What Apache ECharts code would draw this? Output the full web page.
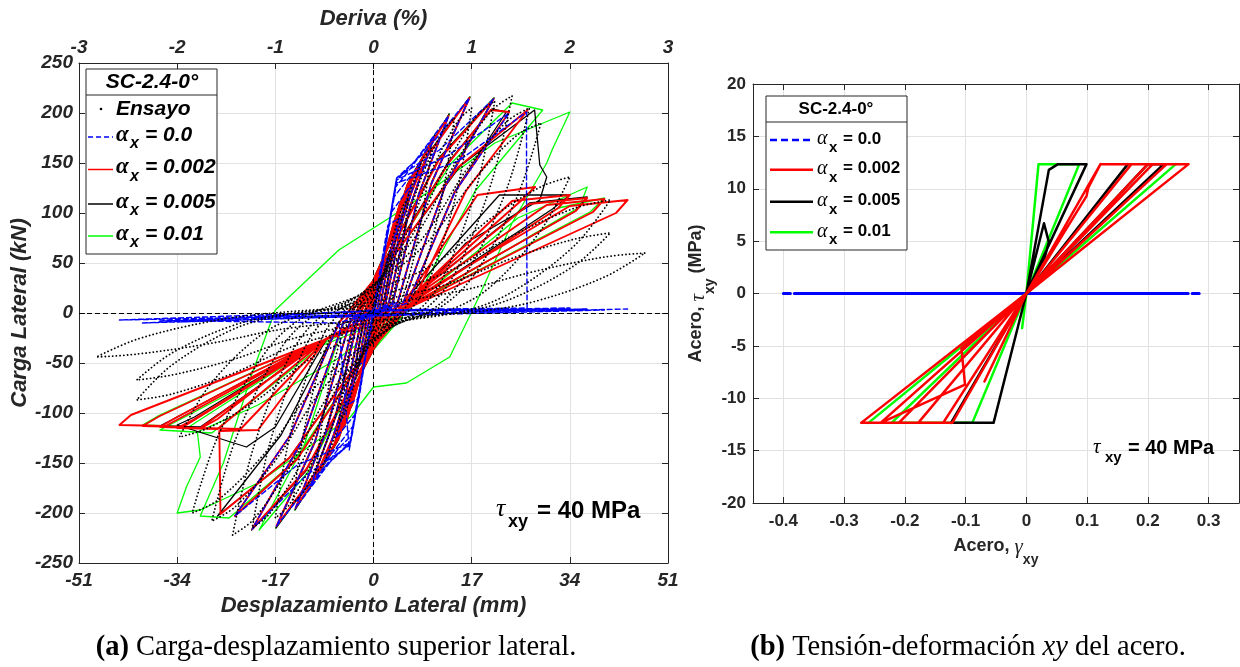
<!DOCTYPE html>
<html>
<head>
<meta charset="utf-8">
<script src="https://cdn.jsdelivr.net/npm/echarts/dist/echarts.min.js"></script>
<style>
html,body{margin:0;padding:0;background:#fff;}
#chart{width:1240px;height:667px;}
</style>
</head>
<body>
<div id="chart"></div>
<script>
// ---------- axis ranges ----------
const dispRange   = [-51, 51, 17];      // Desplazamiento Lateral (mm)
const driftRange  = [-3, 3, 1];         // Deriva (%)
const loadRange   = [-250, 250, 50];    // Carga Lateral (kN)
const strainRange = [-0.45, 0.35];      // Acero, gamma_xy
const stressRange = [-20, 20, 5];       // Acero, tau_xy (MPa)

// ---------- (a) load - displacement, [mm, kN] ----------
const ensayoLoad = [
  [0,0],
  [0.9,21],[1.8,42],[2.55,56],[3,60],[2.55,36],[1.8,12],[1.2,2],[0.3,-5],[-0.9,-19],[-1.8,-39],[-2.55,-51],[-3,-55],[-2.55,-33],[-1.8,-11],[-1.2,-2],[-0.3,4],
  [1.8,40],[3.6,81],[5.1,107],[6,115],[5.1,69],[3.6,23],[2.4,3],[0.6,-9],[-1.8,-39],[-3.6,-77],[-5.1,-102],[-6,-110],[-5.1,-66],[-3.6,-22],[-2.4,-3],[-0.6,9],
  [3,58],[6,116],[8.5,153],[10,165],[8.5,99],[6,33],[4,5],[1,-13],[-3,-56],[-6,-112],[-8.5,-149],[-10,-160],[-8.5,-96],[-6,-32],[-4,-5],[-1,13],
  [4.2,68],[8.4,137],[11.9,181],[14,195],[11.9,117],[8.4,39],[5.6,6],[1.4,-16],[-4.2,-67],[-8.4,-133],[-11.9,-177],[-14,-190],[-11.9,-114],[-8.4,-38],[-5.6,-6],[-1.4,15],
  [5.1,72],[10.2,144],[14.5,191],[17,205],[14.5,123],[10.2,41],[6.8,6],[1.7,-16],[-5.1,-72],[-10.2,-144],[-14.5,-191],[-17,-205],[-14.5,-123],[-10.2,-41],[-6.8,-6],[-1.7,16],
  [6.3,74],[12.6,148],[17.9,197],[21,212],[17.9,127],[12.6,42],[8.4,6],[2.1,-17],[-6.3,-75],[-12.6,-151],[-17.9,-200],[-21,-215],[-17.9,-129],[-12.6,-43],[-8.4,-6],[-2.1,17],
  [7.2,76],[14.4,152],[20.4,202],[24,217],[20.4,130],[14.4,43],[9.6,7],[2.4,-17],[-7.3,-78],[-14.6,-155],[-20.7,-206],[-24.4,-222],[-20.7,-133],[-14.6,-44],[-9.8,-7],[-2.4,18],
  [8.1,72],[16.2,144],[23,191],[27,205],[23,123],[16.2,41],[10.8,6],[2.7,-16],[-8.4,-73],[-16.8,-146],[-23.8,-193],[-28,-208],[-23.8,-125],[-16.8,-42],[-11.2,-6],[-2.8,17],
  [8.7,67],[17.4,133],[24.7,177],[29,190],[24.7,114],[17.4,38],[11.6,6],[2.9,-15],[-9.4,-70],[-18.8,-140],[-26.7,-186],[-31.4,-200],[-26.7,-120],[-18.8,-40],[-12.6,-6],[-3.1,16],
  [10.2,48],[20.4,95],[28.9,126],[34,136],[28.9,82],[20.4,27],[13.6,4],[3.4,-11],[-10.1,-43],[-20.2,-87],[-28.6,-115],[-33.6,-124],[-28.6,-74],[-20.2,-25],[-13.4,-4],[-3.4,10],
  [12.3,40],[24.6,79],[34.9,105],[41,113],[34.9,68],[24.6,23],[16.4,3],[4.1,-9],[-12.3,-30],[-24.6,-61],[-34.9,-81],[-41,-87],[-34.9,-52],[-24.6,-17],[-16.4,-3],[-4.1,7],
  [12.3,28],[24.6,56],[34.9,74],[41,80],[34.9,48],[24.6,16],[16.4,2],[4.1,-6],[-12.3,-23],[-24.6,-47],[-34.9,-62],[-41,-67],[-34.9,-40],[-24.6,-13],[-16.4,-2],[-4.1,5],
  [14.1,21],[28.2,42],[40,56],[47,60],[40,36],[28.2,12],[18.8,2],[4.7,-5],[-14.4,-15],[-28.8,-31],[-40.8,-41],[-48,-44],[-40.8,-26],[-28.8,-9],[-19.2,-1],[-4.8,4],[0,0]
];

const alpha0Load = [
  [0,0],[1.5,50],[2.5,55],[1.5,33],[0.6,3],[0,-5],[-1.5,-48],[-2.5,-52],[-1.5,-31],[-0.6,-3],[0,5],
  [2.5,88],[4.5,95],[2.7,57],[1.1,5],[-0.2,-2],[-2.5,-85],[-4.5,-92],[-2.7,-55],[-1.1,-5],[0.2,2],
  [3,100],[6.5,128],[3.9,77],[1.6,6],[-0.2,-2],[-3,-100],[-6.5,-125],[-3.9,-75],[-1.6,-6],[0.2,2],
  [3.4,115],[8.2,150],[4.9,90],[2,8],[-0.2,-2],[-3.4,-112],[-8.5,-150],[-5.1,-90],[-2.1,-8],[0.2,2],
  [3.7,125],[5.8,140],[10.5,176],[6.3,106],[2.6,9],[-0.2,-2],[-3.7,-122],[-6,-135],[-11,-174],[-6.6,-104],[-2.8,-9],[0.2,2],
  [3.9,132],[7.2,152],[13,197],[7.8,118],[3.3,10],[-0.2,-2],[-3.9,-128],[-7.4,-148],[-13.5,-195],[-8.1,-117],[-3.4,-10],[0.2,2],
  [4,135],[9.1,162],[16.6,215],[10,129],[4.2,11],[-0.2,-2],[-4,-130],[-9.2,-158],[-16.8,-213],[-10.1,-128],[-4.2,-11],[0.2,2],
  [4,135],[11.4,163],[20.8,214],[12.5,128],[5.2,11],[-0.2,-2],[-4.1,-132],[-11.6,-162],[-21,-216],[-12.6,-130],[-5.3,-11],[0.2,2],
  [4,133],[13,158],[23.5,200],[14.1,121],[5.9,10],[-0.2,-2],[-4.1,-130],[-13.2,-152],[-24,-203],[-14.4,-122],[-6,-10],[0.2,2],
  [4,130],[14.7,152],[26.5,201],[26.5,120],[26.6,5],[12,4],[0,3],[-4.2,-137],[-6,-10],
  [-29.8,-8],[0,-2],[30,4],[0,3],[-34,-9],[0,-3],[34,5],[0,2],[-37,-8],[0,-1],[37,4],[0,2],
  [-40,-10],[0,-3],[40,3],[0,2],[-44,-7],[0,-2],[44,4]
];

const alpha002Load = [
  [0,0],
  [0.4,17],[1.4,40],[2.5,55],[1.5,33],[0.6,3],[-0.4,-16],[-1.4,-37],[-2.5,-52],[-1.5,-31],[-0.6,-3],
  [0.7,29],[2.5,68],[4.5,95],[2.7,57],[1.1,5],[-0.7,-28],[-2.5,-66],[-4.5,-92],[-2.7,-55],[-1.1,-5],
  [1,38],[3.6,92],[6.5,128],[3.9,77],[1.6,6],[-1,-38],[-3.6,-90],[-6.5,-125],[-3.9,-75],[-1.6,-6],
  [1.2,45],[4.5,108],[8.2,150],[4.9,90],[2,8],[-1.3,-45],[-4.7,-108],[-8.5,-150],[-5.1,-90],[-2.1,-8],
  [1.6,53],[5.8,127],[10.5,176],[6.3,106],[2.6,9],[-1.7,-52],[-6,-125],[-11,-174],[-6.6,-104],[-2.8,-9],
  [2,59],[7.2,142],[13,197],[7.8,118],[3.3,10],[-2,-59],[-7.4,-140],[-13.5,-195],[-8.1,-117],[-3.4,-10],
  [2.5,65],[9.1,155],[16.6,215],[10,129],[4.2,11],[-2.5,-64],[-9.2,-153],[-16.8,-213],[-10.1,-128],[-4.2,-11],
  [3.1,64],[11.4,154],[20.8,214],[12.5,128],[5.2,11],[-3.2,-65],[-11.6,-156],[-21,-216],[-12.6,-130],[-5.3,-11],
  [3.5,60],[13,150],[20.3,203],[23.5,201],[14.1,121],[5.9,10],[-3.6,-61],[-13.2,-146],[-24,-203],[-14.4,-122],[-6,-10],
  [4,61],[14.7,146],[26.7,203],[16,122],[6.7,10],[-4,-60],[-14.6,-145],[-26.5,-201],[-26.7,-118],[-20,-117],[-8,-25],
  [5,8],[18,118],[28,126],[25.5,112],[3,-3],[-10,-30],[-27,-106],[-29.8,-115],[-23,-116],[-8,-25],
  [5,8],[24,112],[34,118],[32,105],[3,-3],[-10,-30],[-31,-106],[-34,-115],[-27,-116],[-8,-25],
  [5,8],[27,109],[37,115],[35,102],[3,-3],[-10,-30],[-34,-104],[-37,-114],[-30,-115],[-8,-25],
  [5,8],[30,108],[40,114],[38,101],[3,-3],[-10,-30],[-37,-103],[-40,-113],[-33,-114],[-8,-25],
  [5,8],[34,107],[44,113],[42,100],[3,-3],[-10,-30],[-42,-102],[-44,-112],[-36,-113],[-8,-25],[0,0]
];

const alpha005Load = [
  [0,0],
  [0.5,18],[1.5,42],[2.6,56],[1.6,35],[0.7,4],[-0.5,-18],[-1.5,-38],[-2.6,-53],[-1.6,-33],[-0.7,-4],
  [0.8,31],[2.6,70],[4.6,97],[2.8,59],[1.2,6],[-0.8,-30],[-2.6,-68],[-4.6,-94],[-2.8,-57],[-1.2,-6],
  [1.1,40],[3.7,94],[6.6,130],[4,79],[1.7,7],[-1.1,-40],[-3.7,-92],[-6.6,-127],[-4,-77],[-1.7,-7],
  [1.3,47],[4.6,110],[8.3,152],[5,92],[2.1,9],[-1.4,-47],[-4.8,-110],[-8.6,-152],[-5.2,-92],[-2.2,-9],
  [1.7,55],[5.9,129],[10.6,178],[6.4,108],[2.7,10],[-1.8,-54],[-6.1,-127],[-11.1,-176],[-6.7,-106],[-2.9,-10],
  [2.1,61],[7.3,144],[13.1,199],[7.9,120],[3.4,11],[-2.1,-61],[-7.5,-142],[-13.6,-197],[-8.2,-119],[-3.5,-11],
  [2.6,67],[9.2,157],[16.7,216],[10.1,131],[4.3,12],[-2.6,-66],[-9.3,-155],[-16.9,-215],[-10.2,-130],[-4.3,-12],
  [3.2,66],[11.5,156],[20.9,215],[12.6,130],[5.3,12],[-3.3,-67],[-11.7,-158],[-21.1,-217],[-12.7,-132],[-5.4,-12],
  [3.5,62],[13,151],[20.5,204],[23,201],[14,121],[5.9,10],[-3.6,-61],[-13.2,-146],[-24,-203],[-14.4,-122],[-6,-10],
  [4,61],[15,147],[27.9,203],[28.8,148],[30,136],[28.8,113],[16,70],[6,6],[-4,-60],[-14.6,-145],[-27,-203],[-16,-122],[-6,-12],
  [5,10],[21.8,118],[34,118],[31,104],[3,-3],[-10,-30],[-31,-104],[-34,-112],[-22,-134],[-17,-114],[-8,-25],
  [5,8],[27,110],[37,116],[35,102],[3,-3],[-10,-30],[-34,-104],[-37,-113],[-30,-114],[-8,-25],[0,0]
];

const alpha01Load = [
  [0,0],
  [0.5,18],[1.5,41],[2.6,56],[1.6,34],[0.7,4],[-0.4,-17],[-1.5,-38],[-2.6,-53],[-1.6,-32],[-0.7,-4],
  [0.8,30],[2.6,70],[4.6,96],[2.8,58],[1.2,6],[-0.8,-29],[-2.6,-67],[-4.6,-93],[-2.8,-56],[-1.2,-6],
  [1.1,40],[3.7,94],[6.6,130],[4,79],[1.7,7],[-1.1,-39],[-3.7,-92],[-6.6,-127],[-4,-77],[-1.7,-7],
  [1.3,47],[4.6,110],[8.3,152],[5,92],[2.1,9],[-1.4,-46],[-4.8,-110],[-8.6,-152],[-5.2,-92],[-2.2,-9],
  [1.7,55],[5.9,129],[10.6,178],[6.4,108],[2.7,10],[-1.8,-53],[-6.1,-127],[-11.1,-176],[-6.7,-106],[-2.9,-10],
  [2.1,61],[7.3,144],[13.1,199],[7.9,120],[3.4,11],[-2.1,-60],[-7.5,-142],[-13.6,-197],[-8.2,-119],[-3.5,-11],
  [2.6,67],[9.2,157],[16.7,216],[10.1,131],[4.3,12],[-2.6,-66],[-9.3,-155],[-16.9,-215],[-10.2,-130],[-4.3,-12],
  [3.2,66],[11.5,156],[20.8,215],[12.6,130],[5.3,12],[-3.2,-66],[-11.2,-158],[-19.8,-217],[-12,-132],[-5.3,-12],
  [3.6,62],[13.5,150],[24,210],[29.3,203],[17.6,122],[7,10],[-3.8,-62],[-14,-150],[-25,-205],[-30,-203],[-26,-150],[-21,-60],
  [-17,3],[-6,63],[3,96],[10,123],[21,170],[34,201],[31,164],[30,150],[24,90],[18,13],[13.2,-44],[5.7,-70],[0,-74],[-4,-104],
  [-20,-170],[-30,-197],[-34,-200],[-32.4,-174],[-30,-144],[-30.5,-119],[-20,-92],[-6,-45],
  [8,15],[25,95],[37,126],[35.7,106],[3,-5],[-10,-35],[-33,-105],[-37,-117],[-28,-120],[-8,-28],
  [5,5],[32,105],[40,115],[37.5,101],[3,-3],[-10,-30],[-37,-102],[-40,-112],[-32,-114],[-8,-25],[0,0]
];

// ---------- (b) steel shear stress - strain, [gamma_xy, tau_xy MPa] ----------
const alpha0Steel = [[-0.4,0],[0.262,0],[-0.371,0],[0.262,0],[-0.371,0],[0.288,0]];

const alpha002Steel = [
  [0,0],[0.099,9.3],[0.102,10.1],[0.122,12.35],[0,0],[-0.069,-8.4],[0,0],
  [-0.122,-12.35],[-0.137,-12.35],[0,0],[0.122,12.35],[0.173,12.35],[0,0],
  [-0.137,-12.35],[-0.178,-12.35],[0,0],[0.173,12.35],[0.2,12.35],[0,0],
  [0.2,12.35],[0.208,12.35],[0,0],[-0.178,-12.35],[-0.21,-12.35],[0,0],
  [0.208,12.35],[0.231,12.35],[0,0],[-0.21,-12.35],[-0.24,-12.35],[0,0],
  [0.231,12.35],[0.267,12.35],[0,0],[-0.107,-5.2],[-0.101,-8.7],[-0.24,-12.35],[-0.272,-12.35],[0,0]
];

const alpha005Steel = [
  [0,0],[0.029,6.7],[0.037,4.9],[0.03,3.4],[0,0],[0.037,11.8],[0.052,12.35],[0.099,12.35],[0,0],
  [-0.054,-12.35],[-0.124,-12.35],[0,0],[0.167,12.35],[0,0],[-0.124,-12.35],[0,0],
  [0.2,12.35],[0.226,12.35],[0,0]
];

const alpha01Steel = [
  [0,0],[0.02,12.35],[0.087,12.35],[0,0],[-0.007,-3.3],[0,0],
  [-0.089,-12.35],[-0.222,-12.35],[0,0],[0.246,12.35],[0,0],[-0.26,-12.35],[0,0]
];

// ---------- styling ----------
const AX = '#262626';
const GRID = '#e2e2e2';
const SANS = 'Liberation Sans';
const SERIF = 'Liberation Serif';
const BLUE = '#0000ff', RED = '#ff0000', GREEN = '#00ff00', BLACK = '#000000';

function axisCfg(o) {
  return Object.assign({
    type: 'value',
    axisLine: { show: true, onZero: false, lineStyle: { color: AX, width: 1 } },
    axisTick: { show: true, inside: true, length: 6, lineStyle: { color: AX } },
    splitLine: { show: false },
    axisLabel: { show: false }
  }, o);
}

const chart = echarts.init(document.getElementById('chart'), null, { renderer: 'canvas' });

const leftLbl = { color: AX, fontFamily: SANS, fontWeight: 'bold', fontStyle: 'italic', fontSize: 19 };
const leftName = { color: AX, fontFamily: SANS, fontWeight: 'bold', fontStyle: 'italic', fontSize: 22 };
const rightLbl = { color: AX, fontFamily: SANS, fontWeight: 'bold', fontSize: 17 };

const subRich = {
  n: { fontFamily: SANS, fontWeight: 'bold', fontSize: 18, color: AX, lineHeight: 22, verticalAlign: 'top' },
  g: { fontFamily: SERIF, fontStyle: 'italic', fontSize: 21, color: AX, lineHeight: 22, verticalAlign: 'top' },
  s: { fontFamily: SANS, fontWeight: 'bold', fontSize: 14, color: AX, lineHeight: 30, verticalAlign: 'bottom' }
};

// legend / annotation blocks drawn as graphic elements
function txt(x, y, text, font, color, align) {
  return { type: 'text', z: 100, x: x, y: y,
    style: { text: text, font: font, fill: color || '#000',
      align: align || 'left', textAlign: align || 'left',
      verticalAlign: 'middle', textVerticalAlign: 'middle' } };
}
function seg(x1, y1, x2, y2, color, width, dash) {
  return { type: 'line', z: 100, shape: { x1: x1, y1: y1, x2: x2, y2: y2 },
    style: { stroke: color, lineWidth: width, lineDash: dash || null } };
}

const legendLabels = ['0.0', '0.002', '0.005', '0.01'];
const legendColors = [BLUE, RED, BLACK, GREEN];
const legendDash = [[5, 3], null, null, null];

const graphics = [];
// left legend
graphics.push({ type: 'rect', z: 99, shape: { x: 86, y: 69, width: 131, height: 185 },
  style: { fill: '#fff', stroke: AX, lineWidth: 1 } });
graphics.push(seg(86, 95, 217, 95, AX, 1));
graphics.push(txt(152, 82, 'SC-2.4-0°', 'italic bold 21px "Liberation Sans"', '#000', 'center'));
graphics.push({ type: 'circle', z: 100, shape: { cx: 101, cy: 109, r: 1.3 }, style: { fill: '#000' } });
graphics.push(txt(116, 109, 'Ensayo', 'italic bold 21px "Liberation Sans"'));
[137, 169.5, 204, 236].forEach(function (y, i) {
  graphics.push(seg(88, y, 113, y, legendColors[i], 1.5, legendDash[i]));
  graphics.push(txt(116, y - 2, 'α', 'italic bold 23px "Liberation Serif"'));
  graphics.push(txt(130, y + 7, 'x', 'italic bold 16px "Liberation Sans"'));
  graphics.push(txt(145, y - 2, '= ' + legendLabels[i], 'italic bold 21px "Liberation Sans"'));
});
// right legend
graphics.push({ type: 'rect', z: 99, shape: { x: 766, y: 96, width: 141, height: 154 },
  style: { fill: '#fff', stroke: AX, lineWidth: 1 } });
graphics.push(seg(766, 122, 907, 122, AX, 1));
graphics.push(txt(836, 109.5, 'SC-2.4-0°', 'bold 17px "Liberation Sans"', '#000', 'center'));
[140, 169.7, 201.7, 232.3].forEach(function (y, i) {
  graphics.push(seg(770, y, 813, y, legendColors[i], 2.5, i === 0 ? [7, 4] : null));
  graphics.push(txt(817, y - 1, 'α', 'italic 20px "Liberation Serif"'));
  graphics.push(txt(829, y + 8, 'x', 'bold 15px "Liberation Sans"'));
  graphics.push(txt(843, y - 1, '= ' + legendLabels[i], 'bold 17px "Liberation Sans"'));
});
// tau annotations
graphics.push(txt(496, 509, 'τ', 'italic 26px "Liberation Serif"'));
graphics.push(txt(508, 522, 'xy', 'bold 18px "Liberation Sans"'));
graphics.push(txt(537, 511, '= 40 MPa', 'bold 24px "Liberation Sans"'));
graphics.push(txt(1093, 447, 'τ', 'italic 21px "Liberation Serif"'));
graphics.push(txt(1105, 458, 'xy', 'bold 15px "Liberation Sans"'));
graphics.push(txt(1128, 448, '= 40 MPa', 'bold 20px "Liberation Sans"'));
// captions
graphics.push({ type: 'text', z: 100, x: 336, y: 648,
  style: { text: '{b|(a)} Carga-desplazamiento superior lateral.', font: '28.5px "Liberation Serif"', fill: '#000',
    align: 'center', textAlign: 'center', verticalAlign: 'middle', textVerticalAlign: 'middle',
    rich: { b: { fontFamily: SERIF, fontWeight: 'bold', fontSize: 28.5 } } } });
graphics.push({ type: 'text', z: 100, x: 968, y: 648,
  style: { text: '{b|(b)} Tensión-deformación {i|xy} del acero.', font: '28.5px "Liberation Serif"', fill: '#000',
    align: 'center', textAlign: 'center', verticalAlign: 'middle', textVerticalAlign: 'middle',
    rich: { b: { fontFamily: SERIF, fontWeight: 'bold', fontSize: 28.5 }, i: { fontFamily: SERIF, fontStyle: 'italic', fontSize: 28.5 } } } });

function lineSeries(name, data, color, width, dash, xi, yi, extra) {
  return Object.assign({
    name: name, type: 'line', data: data, xAxisIndex: xi, yAxisIndex: yi,
    showSymbol: false, symbol: 'none', silent: true, animation: false,
    lineStyle: { color: color, width: width, type: dash || 'solid', cap: 'round', join: 'round' },
    clip: true
  }, extra || {});
}

const option = {
  backgroundColor: '#ffffff',
  animation: false,
  grid: [
    { left: 79, top: 63, width: 589, height: 500 },
    { left: 753, top: 84, width: 486, height: 419 }
  ],
  xAxis: [
    axisCfg({ gridIndex: 0, position: 'bottom', min: dispRange[0], max: dispRange[1], interval: dispRange[2],
      axisLabel: Object.assign({ show: true, margin: 8 }, leftLbl),
      splitLine: { show: true, lineStyle: { color: GRID, width: 1 } },
      name: 'Desplazamiento Lateral (mm)', nameLocation: 'middle', nameGap: 32, nameTextStyle: leftName }),
    axisCfg({ gridIndex: 0, position: 'top', min: driftRange[0], max: driftRange[1], interval: driftRange[2],
      axisLabel: Object.assign({ show: true, margin: 6 }, leftLbl),
      name: 'Deriva (%)', nameLocation: 'middle', nameGap: 33, nameTextStyle: leftName }),
    axisCfg({ gridIndex: 1, position: 'bottom', min: strainRange[0], max: strainRange[1], splitNumber: 8,
      axisLabel: Object.assign({ show: true, margin: 10, showMinLabel: false, showMaxLabel: false }, rightLbl),
      splitLine: { show: true, lineStyle: { color: GRID, width: 1 } },
      name: '{n|Acero, }{g|γ}{s|xy}', nameLocation: 'middle', nameGap: 34,
      nameTextStyle: { rich: subRich } }),
    axisCfg({ gridIndex: 1, position: 'top', min: strainRange[0], max: strainRange[1], splitNumber: 8 })
  ],
  yAxis: [
    axisCfg({ gridIndex: 0, position: 'left', min: loadRange[0], max: loadRange[1], interval: loadRange[2],
      axisLabel: Object.assign({ show: true, margin: 6 }, leftLbl),
      splitLine: { show: true, lineStyle: { color: GRID, width: 1 } },
      name: 'Carga Lateral (kN)', nameLocation: 'middle', nameGap: 44, nameTextStyle: leftName }),
    axisCfg({ gridIndex: 0, position: 'right', min: loadRange[0], max: loadRange[1], interval: loadRange[2] }),
    axisCfg({ gridIndex: 1, position: 'left', min: stressRange[0], max: stressRange[1], interval: stressRange[2],
      axisLabel: Object.assign({ show: true, margin: 7 }, rightLbl),
      splitLine: { show: true, lineStyle: { color: GRID, width: 1 } },
      name: '{n|Acero, }{g|τ}{s|xy}{n| (MPa)}', nameLocation: 'middle', nameGap: 35,
      nameTextStyle: { rich: subRich } }),
    axisCfg({ gridIndex: 1, position: 'right', min: stressRange[0], max: stressRange[1], interval: stressRange[2] })
  ],
  series: [
    lineSeries('αx = 0.01', alpha01Load, GREEN, 1.3, null, 0, 0, {
      markLine: { silent: true, symbol: 'none', label: { show: false }, animation: false,
        lineStyle: { color: '#000', width: 1, type: [5, 3] },
        data: [{ xAxis: 0 }, { yAxis: 0 }] } }),
    lineSeries('αx = 0.005', alpha005Load, BLACK, 1.3, null, 0, 0),
    lineSeries('αx = 0.002', alpha002Load, RED, 1.9, null, 0, 0),
    lineSeries('αx = 0.0', alpha0Load, BLUE, 1.4, [5, 3], 0, 0),
    lineSeries('Ensayo', ensayoLoad, BLACK, 1.8, [0.1, 3.6], 0, 0, { smooth: 0.35 }),

    lineSeries('αx = 0.0 (b)', alpha0Steel, BLUE, 3, [7, 4], 2, 2),
    lineSeries('αx = 0.01 (b)', alpha01Steel, GREEN, 2.5, null, 2, 2),
    lineSeries('αx = 0.005 (b)', alpha005Steel, BLACK, 2.5, null, 2, 2),
    lineSeries('αx = 0.002 (b)', alpha002Steel, RED, 2.5, null, 2, 2)
  ],
  graphic: graphics
};

chart.setOption(option);
</script>
</body>
</html>
